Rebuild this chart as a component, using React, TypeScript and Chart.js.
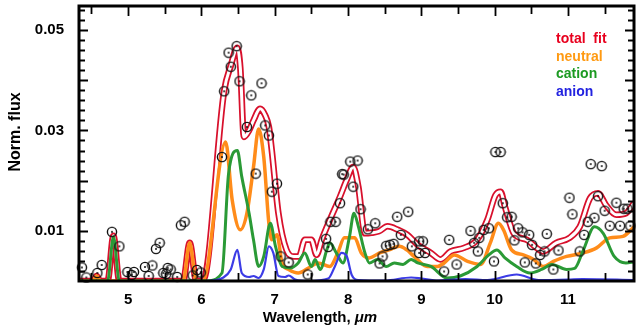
import React, { useEffect, useRef } from "react";
import { Chart, registerables } from "chart.js";

Chart.register(...registerables);

// ---- data (wavelength in micrometres, normalised flux) ----
const fitX = [4.33, 4.52, 4.57, 4.62, 4.72, 4.80, 4.88, 5.75, 5.84, 5.93, 6.02, 6.31, 6.40, 6.49, 6.53, 6.58, 6.65, 6.71, 6.80, 6.87, 6.92, 6.96, 7.05, 7.16, 7.26, 7.33, 7.41, 7.50, 7.57, 7.64, 7.77, 7.89, 7.98, 8.07, 8.14, 8.23, 8.32, 8.42, 8.54, 8.68, 8.81, 8.95, 9.13, 9.26, 9.40, 9.58, 9.76, 9.90, 10.01, 10.08, 10.14, 10.26, 10.44, 10.57, 10.66, 10.84, 11.02, 11.16, 11.30, 11.41, 11.52, 11.66, 11.79, 11.90];
const fitY = [0, 0, 0.001, 0, 0, 0.0090, 0, 0, 0.0076, 0, 0, 0.0379, 0.0429, 0.0465, 0.0425, 0.0287, 0.0300, 0.0320, 0.0343, 0.0330, 0.0307, 0.0260, 0.0135, 0.0062, 0.0049, 0.0049, 0.0082, 0.0082, 0.0052, 0.0082, 0.0128, 0.0168, 0.0201, 0.0227, 0.0188, 0.0095, 0.0096, 0.0099, 0.0109, 0.0102, 0.0092, 0.0072, 0.0056, 0.0043, 0.0059, 0.0066, 0.0082, 0.0122, 0.0171, 0.0178, 0.0148, 0.0095, 0.0082, 0.0066, 0.0059, 0.0076, 0.0086, 0.0108, 0.0165, 0.0175, 0.0151, 0.0132, 0.0135, 0.0155];

const neutralX = [4.33, 4.52, 4.57, 4.62, 5.75, 5.84, 5.93, 6.02, 6.33, 6.42, 6.53, 6.62, 6.71, 6.78, 6.85, 6.92, 6.96, 7.03, 7.10, 7.19, 7.32, 7.46, 7.59, 7.75, 7.86, 7.95, 8.09, 8.18, 8.29, 8.43, 8.56, 8.70, 8.80, 8.90, 9.08, 9.22, 9.31, 9.45, 9.63, 9.81, 9.94, 10.05, 10.12, 10.23, 10.39, 10.53, 10.66, 10.80, 10.98, 11.21, 11.39, 11.57, 11.75, 11.90];
const neutralY = [0, 0, 0.001, 0, 0, 0.0076, 0, 0, 0.0277, 0.0161, 0.0102, 0.0135, 0.0227, 0.0303, 0.0247, 0.0115, 0.0082, 0.0092, 0.0036, 0.0023, 0.0016, 0.0026, 0.0036, 0.0029, 0.0056, 0.0086, 0.0086, 0.0056, 0.0046, 0.0056, 0.0062, 0.0069, 0.0062, 0.0049, 0.0029, 0.0029, 0.0036, 0.0052, 0.0039, 0.0033, 0.0076, 0.0115, 0.0102, 0.0062, 0.0052, 0.0043, 0.0029, 0.0039, 0.0049, 0.0056, 0.0066, 0.0086, 0.0089, 0.0108];

const cationX = [4.33, 4.72, 4.80, 4.88, 6.06, 6.28, 6.37, 6.49, 6.55, 6.65, 6.71, 6.78, 6.85, 6.94, 7.01, 7.10, 7.21, 7.32, 7.41, 7.50, 7.55, 7.62, 7.71, 7.75, 7.84, 7.93, 8.02, 8.08, 8.14, 8.23, 8.29, 8.40, 8.52, 8.63, 8.75, 8.86, 8.95, 9.13, 9.35, 9.53, 9.76, 9.92, 10.03, 10.14, 10.30, 10.48, 10.64, 10.78, 10.98, 11.09, 11.21, 11.36, 11.48, 11.63, 11.79, 11.90];
const cationY = [0, 0, 0.0088, 0, 0, 0.0016, 0.0214, 0.0260, 0.0208, 0.0135, 0.0082, 0.0029, 0.0049, 0.0115, 0.0069, 0.0029, 0.0026, 0.0036, 0.0056, 0.0029, 0.0043, 0.0023, 0.0062, 0.0076, 0.0056, 0.0036, 0.0089, 0.0135, 0.0109, 0.0056, 0.0036, 0.0043, 0.0029, 0.0036, 0.0033, 0.0043, 0.0036, 0.0029, 0.0006, 0.0010, 0.0029, 0.0052, 0.0062, 0.0046, 0.0029, 0.0016, 0.0023, 0.0033, 0.0023, 0.0025, 0.0062, 0.0108, 0.0095, 0.0049, 0.0036, 0.0038];

const anionX = [4.33, 6.06, 6.30, 6.40, 6.49, 6.55, 6.65, 6.71, 6.78, 6.85, 6.92, 6.98, 7.05, 7.14, 7.19, 7.28, 7.46, 7.73, 7.82, 7.91, 7.98, 8.05, 8.14, 8.50, 8.86, 9.00, 9.20, 9.60, 9.90, 10.30, 10.60, 11.00, 11.20, 11.90];
const anionY = [0, 0, 0.0007, 0.0023, 0.0062, 0.0016, 0.0008, 0.0010, 0.0006, 0.0023, 0.0069, 0.0056, 0.0010, 0.0008, 0.0011, 0.0003, 0, 0.0005, 0.0029, 0.0056, 0.0050, 0.0012, 0.0002, 0.0001, 0.0007, 0.0005, 0.0001, 0.0004, 0.0002, 0.0013, 0.0002, 0.0003, 0.0004, 0.0002];

const obsX = [4.37, 4.43, 4.58, 4.64, 4.78, 4.88, 4.99, 5.05, 5.08, 5.23, 5.28, 5.33, 5.38, 5.43, 5.48, 5.52, 5.54, 5.58, 5.67, 5.72, 5.77, 5.88, 5.94, 5.99, 6.28, 6.31, 6.37, 6.40, 6.48, 6.52, 6.62, 6.68, 6.74, 6.82, 6.87, 6.92, 6.96, 7.03, 7.08, 7.19, 7.45, 7.70, 7.73, 7.76, 7.83, 7.89, 7.92, 7.94, 8.03, 8.13, 8.07, 8.17, 8.27, 8.37, 8.43, 8.47, 8.52, 8.57, 8.62, 8.67, 8.72, 8.82, 8.87, 8.97, 8.97, 9.02, 9.05, 9.31, 9.38, 9.48, 9.67, 9.72, 9.77, 9.79, 9.85, 9.92, 9.99, 10.01, 10.08, 10.11, 10.17, 10.23, 10.27, 10.32, 10.38, 10.41, 10.47, 10.51, 10.56, 10.62, 10.68, 10.71, 10.80, 10.87, 11.02, 11.06, 11.16, 11.22, 11.27, 11.31, 11.36, 11.41, 11.46, 11.50, 11.57, 11.66, 11.71, 11.76, 11.81, 11.85];
const obsY = [0.0027, 0.0007, 0.0016, 0.0032, 0.0098, 0.0069, 0.0018, 0.0012, 0.0018, 0.0028, 0.0010, 0.0031, 0.0064, 0.0076, 0.0016, 0.0014, 0.0026, 0.0023, 0.0008, 0.0111, 0.0118, 0.0011, 0.0022, 0.0017, 0.0247, 0.0378, 0.0455, 0.0427, 0.0468, 0.0398, 0.0307, 0.0370, 0.0214, 0.0394, 0.0310, 0.0290, 0.0178, 0.0194, 0.0049, 0.0037, 0.0013, 0.0084, 0.0068, 0.0118, 0.0118, 0.0155, 0.0213, 0.0212, 0.0238, 0.0240, 0.0188, 0.0143, 0.0103, 0.0115, 0.0035, 0.0049, 0.0070, 0.0072, 0.0074, 0.0128, 0.0092, 0.0138, 0.0069, 0.0079, 0.0056, 0.0079, 0.0056, 0.0019, 0.0082, 0.0033, 0.0100, 0.0076, 0.0059, 0.0086, 0.0102, 0.0105, 0.0039, 0.0257, 0.0257, 0.0155, 0.0127, 0.0128, 0.0081, 0.0105, 0.0097, 0.0037, 0.0092, 0.0072, 0.0035, 0.0052, 0.0059, 0.0094, 0.0023, 0.0061, 0.0166, 0.0133, 0.0059, 0.0092, 0.0118, 0.0233, 0.0126, 0.0169, 0.0229, 0.0140, 0.0110, 0.0156, 0.0110, 0.0144, 0.0144, 0.0110];

const xTickLabels = [5, 6, 7, 8, 9, 10, 11];
const yTickLabels = [0.01, 0.03, 0.05];
const legendLabels = ["total  fit", "neutral", "cation", "anion"];
const legendColors = ["#e8001e", "#ff9a12", "#1c9a22", "#2222e0"];

const FONT = "'Liberation Sans', Arial, sans-serif";

function pairs(xs: number[], ys: number[]) {
  return xs.map((x, i) => ({ x, y: ys[i] }));
}

function makeMarker() {
  const c = document.createElement("canvas");
  c.width = 12;
  c.height = 12;
  const g = c.getContext("2d")!;
  g.strokeStyle = "#111";
  g.lineWidth = 1.4;
  g.beginPath();
  g.arc(6, 6, 4.6, 0, Math.PI * 2);
  g.stroke();
  g.fillStyle = "#111";
  g.beginPath();
  g.arc(6, 6, 1.0, 0, Math.PI * 2);
  g.fill();
  return c;
}

const framePlugin = {
  id: "frame",
  afterDatasetsDraw(chart: any) {
    const { ctx, chartArea: a, scales } = chart;
    const xs = scales.x;
    const ys = scales.y;
    ctx.save();
    ctx.strokeStyle = "#000";
    ctx.lineWidth = 1.8;
    // y ticks (left and right, inward)
    for (let i = 1; i <= 27; i++) {
      const v = i * 0.002;
      if (v >= ys.max) break;
      const py = Math.round(ys.getPixelForValue(v)) + 0.5;
      const len = i % 5 === 0 ? 9 : 6;
      ctx.beginPath();
      ctx.moveTo(a.left, py);
      ctx.lineTo(a.left + len, py);
      ctx.moveTo(a.right, py);
      ctx.lineTo(a.right - len, py);
      ctx.stroke();
    }
    // x ticks (bottom and top, inward)
    for (let k = 9; k <= 23; k++) {
      const v = k * 0.5;
      if (v <= xs.min || v >= xs.max) continue;
      const px = Math.round(xs.getPixelForValue(v)) + 0.5;
      const len = k % 2 === 0 ? 10 : 8;
      ctx.beginPath();
      ctx.moveTo(px, a.bottom);
      ctx.lineTo(px, a.bottom - len);
      ctx.moveTo(px, a.top);
      ctx.lineTo(px, a.top + len);
      ctx.stroke();
    }
    ctx.lineWidth = 3;
    ctx.strokeRect(a.left, a.top, a.right - a.left, a.bottom - a.top);

    // axis titles
    ctx.fillStyle = "#000";
    ctx.textBaseline = "middle";
    ctx.textAlign = "center";
    ctx.save();
    ctx.translate(16, 132);
    ctx.rotate(-Math.PI / 2);
    ctx.font = `bold 16px ${FONT}`;
    ctx.fillText("Norm. flux", 0, 0);
    ctx.restore();

    const part1 = "Wavelength, ";
    const part2 = "\u03bcm";
    ctx.font = `bold 15px ${FONT}`;
    const w1 = ctx.measureText(part1).width;
    ctx.font = `italic bold 15px ${FONT}`;
    const w2 = ctx.measureText(part2).width;
    const startX = 320 - (w1 + w2) / 2;
    ctx.textAlign = "left";
    ctx.font = `bold 15px ${FONT}`;
    ctx.fillText(part1, startX, 318);
    ctx.font = `italic bold 15px ${FONT}`;
    ctx.fillText(part2, startX + w1, 318);

    // text legend
    ctx.font = `bold 14px ${FONT}`;
    ctx.textBaseline = "alphabetic";
    legendLabels.forEach((t, i) => {
      ctx.fillStyle = legendColors[i];
      ctx.fillText(t, 556, 43 + i * 17.5);
    });
    ctx.restore();
  },
};

export default function App() {
  const ref = useRef<HTMLCanvasElement | null>(null);

  useEffect(() => {
    if (!ref.current) return;
    const marker = makeMarker();
    const lineBase = {
      showLine: true,
      pointRadius: 0,
      pointHoverRadius: 0,
      fill: false,
      cubicInterpolationMode: "monotone" as const,
    };
    const chart = new Chart(ref.current, {
      type: "scatter",
      data: {
        datasets: [
          {
            ...lineBase,
            label: "total fit outline",
            data: pairs(fitX, fitY),
            borderColor: "#d8102c",
            borderWidth: 6.5,
            order: 10,
          },
          {
            ...lineBase,
            label: "total fit",
            data: pairs(fitX, fitY),
            borderColor: "#ffffff",
            borderWidth: 3,
            order: 9,
          },
          {
            ...lineBase,
            label: "neutral",
            data: pairs(neutralX, neutralY),
            borderColor: "#ff8c1a",
            borderWidth: 3.5,
            order: 6,
          },
          {
            ...lineBase,
            label: "cation",
            data: pairs(cationX, cationY),
            borderColor: "#2a9a36",
            borderWidth: 3,
            order: 5,
          },
          {
            ...lineBase,
            label: "anion",
            data: pairs(anionX, anionY),
            borderColor: "#3c3ce6",
            borderWidth: 2.2,
            order: 4,
          },
          {
            label: "observed",
            data: pairs(obsX, obsY),
            showLine: false,
            pointStyle: marker as any,
            pointRadius: 5,
            order: 1,
            clip: false as any,
          },
        ],
      },
      options: {
        animation: false,
        responsive: false,
        events: [],
        layout: { padding: { top: 4, right: 3, left: 0, bottom: 0 } },
        plugins: {
          legend: { display: false },
          tooltip: { enabled: false },
        },
        scales: {
          x: {
            type: "linear",
            min: 4.33,
            max: 11.9,
            grid: { display: false, drawTicks: false },
            border: { display: false },
            afterBuildTicks: (s: any) => {
              s.ticks = xTickLabels.map((v) => ({ value: v }));
            },
            afterFit: (s: any) => {
              s.height = 50;
              s.paddingLeft = 0;
              s.paddingRight = 0;
            },
            ticks: {
              autoSkip: false,
              maxRotation: 0,
              padding: 10,
              color: "#000",
              font: { family: FONT, size: 15, weight: "bold" },
              callback: (v: any) => String(v),
            },
          },
          y: {
            type: "linear",
            min: 0,
            max: 0.0548,
            grid: { display: false, drawTicks: false },
            border: { display: false },
            afterBuildTicks: (s: any) => {
              s.ticks = yTickLabels.map((v) => ({ value: v }));
            },
            afterFit: (s: any) => {
              s.width = 79;
              s.paddingTop = 0;
              s.paddingBottom = 0;
            },
            ticks: {
              autoSkip: false,
              padding: 15,
              color: "#000",
              font: { family: FONT, size: 15, weight: "bold" },
              callback: (v: any) => Number(v).toFixed(2),
            },
          },
        },
      },
      plugins: [framePlugin],
    });
    return () => chart.destroy();
  }, []);

  return (
    <div style={{ position: "fixed", left: 0, top: 0, width: 640, height: 331, background: "#fff" }}>
      <canvas ref={ref} width={640} height={331} style={{ display: "block" }} />
    </div>
  );
}
